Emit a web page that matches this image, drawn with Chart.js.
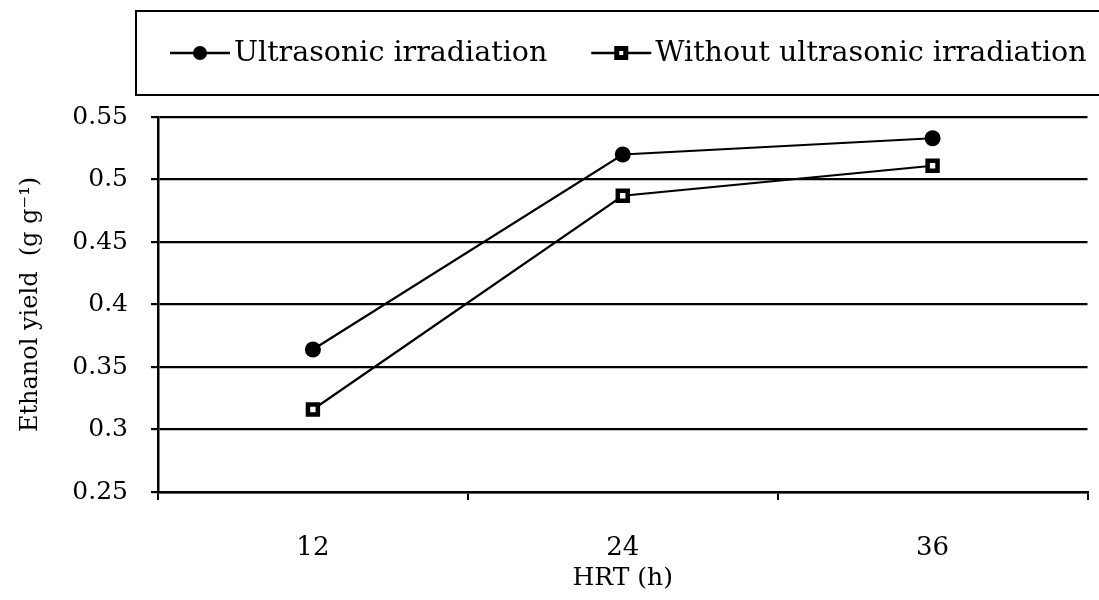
<!DOCTYPE html>
<html>
<head>
<meta charset="utf-8">
<script src="https://cdn.jsdelivr.net/npm/chart.js@4"></script>
<style>
  html, body { margin: 0; padding: 0; background: #fff; }
  #wrap { width: 1099px; height: 600px; }
</style>
</head>
<body>
<div id="wrap"><canvas id="c" width="1099" height="600"></canvas></div>
<script>
const categories = ['12', '24', '36'];
const ultrasonic = [0.364, 0.520, 0.533];
const withoutUltrasonic = [0.316, 0.487, 0.511];
const yTicks = [0.25, 0.3, 0.35, 0.4, 0.45, 0.5, 0.55];
const seriesNames = ['Ultrasonic irradiation', 'Without ultrasonic irradiation'];

const FONT = 'DejaVu Serif';

// legend drawn by hand: boxed, line + marker
const boxLegend = {
  id: 'boxLegend',
  afterDraw(chart) {
    const ctx = chart.ctx;
    ctx.save();
    ctx.strokeStyle = '#000';
    ctx.lineWidth = 2;
    ctx.strokeRect(136, 11, 970, 84);
    ctx.font = '28.5px "' + FONT + '"';
    ctx.textBaseline = 'middle';
    ctx.fillStyle = '#000';
    const y = 53;
    let x = 170;
    chart.data.datasets.forEach((ds, i) => {
      ctx.lineWidth = 2.5;
      ctx.beginPath();
      ctx.moveTo(x, y);
      ctx.lineTo(x + 60, y);
      ctx.stroke();
      const mx = x + 30;
      if (i === 0) {
        ctx.beginPath();
        ctx.arc(mx, y, 7, 0, Math.PI * 2);
        ctx.fill();
      } else {
        ctx.fillRect(mx - 7, y - 7, 14, 14);
        ctx.fillStyle = '#fff';
        ctx.fillRect(mx - 2, y - 2, 4, 4);
        ctx.fillStyle = '#000';
      }
      ctx.fillText(ds.label, x + 64, y + 1);
      x += 64 + ctx.measureText(ds.label).width + 44;
    });
    ctx.restore();
  }
};

new Chart(document.getElementById('c'), {
  type: 'line',
  data: {
    labels: categories,
    datasets: [
      {
        label: seriesNames[0],
        data: ultrasonic,
        borderColor: '#000',
        borderWidth: 2.2,
        backgroundColor: '#000',
        pointStyle: 'circle',
        pointRadius: 8,
        pointBorderWidth: 0,
        tension: 0
      },
      {
        label: seriesNames[1],
        data: withoutUltrasonic,
        borderColor: '#000',
        borderWidth: 2.2,
        pointStyle: 'rect',
        pointRadius: 7,
        pointBorderWidth: 4.5,
        pointBackgroundColor: '#fff',
        pointBorderColor: '#000',
        tension: 0
      }
    ]
  },
  options: {
    responsive: false,
    animation: false,
    layout: { padding: { top: 117, right: 6, left: 8, bottom: 7 } },
    plugins: { legend: { display: false }, tooltip: { enabled: false } },
    scales: {
      x: {
        offset: true,
        afterFit: axis => { axis.height = 101; axis.paddingRight = 0; axis.paddingLeft = 0; },
        grid: { drawOnChartArea: false, color: '#000', lineWidth: 2, tickLength: 8, offset: true },
        border: { color: '#000', width: 2.5 },
        ticks: { color: '#000', font: { family: FONT, size: 26 }, padding: 33 },
        title: { display: true, text: 'HRT (h)', color: '#000', font: { family: FONT, size: 25 }, padding: { top: 0, bottom: 0 } }
      },
      y: {
        min: 0.25,
        max: 0.55,
        afterBuildTicks: axis => { axis.ticks = yTicks.map(v => ({ value: v })); },
        afterFit: axis => { axis.width = 150; },
        grid: { color: '#000', lineWidth: 2.2, tickLength: 7 },
        border: { color: '#000', width: 2.5 },
        ticks: { color: '#000', font: { family: FONT, size: 25 }, padding: 23, callback: v => String(v) },
        title: { display: true, text: 'Ethanol yield  (g g\u207B\u00B9)', color: '#000', font: { family: FONT, size: 24 }, padding: { top: 8, bottom: 0 } }
      }
    }
  },
  plugins: [boxLegend]
});
</script>
</body>
</html>
